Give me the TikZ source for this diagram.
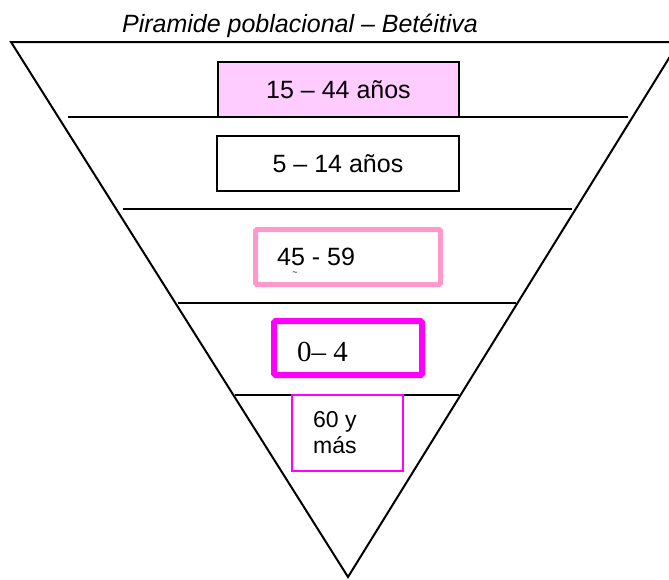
\documentclass[tikz,border=0pt]{standalone}
\usepackage{fontspec}
\setmainfont{Liberation Sans}
\newfontfamily\serifnum{Liberation Serif}
\usetikzlibrary{positioning}
\definecolor{lilac}{HTML}{FFCCFF}
\definecolor{rosa}{HTML}{FF99CC}
\definecolor{fucsia}{HTML}{FF00FF}
\begin{document}
\begin{tikzpicture}[
                x=1pt,y=-1pt,
                edgeline/.style={line width=2pt,line join=miter},
                band/.style={line width=1.8pt},
                agebox/.style={rectangle,draw,inner sep=0pt},
                lbl/.style={inner sep=0pt,anchor=base west,font=\fontsize{25}{26}\selectfont}
            ]
                \useasboundingbox (0,0) rectangle (669,579);
                % outline of the pyramid
                \coordinate (tl) at (11,42);
                \coordinate (tr) at (679,42);
                \coordinate (ap) at (348,577);
                \draw[edgeline] (tl) -- (tr) -- (ap) -- cycle;
                \node[inner sep=0pt,anchor=base,font=\fontsize{25}{26}\selectfont\itshape] (title) at (300,32) {Piramide poblacional -- Betéitiva};
                % bands
                \foreach \y/\xa/\xb [count=\i] in {117/68/628,209/123/572,303/178/516,395/235/459}{
                    \coordinate (l\i) at (\xa,\y);
                    \coordinate (r\i) at (\xb,\y);
                    \draw[band] (l\i) -- (r\i);
                }
                % age groups
                \node[agebox,fill=lilac,line width=1.4pt,minimum width=241pt,minimum height=55pt,
                    font=\fontsize{25}{26}\selectfont] (g1544) at (338.5,89.5) {15 -- 44 años};
                \node[agebox,line width=1.4pt,minimum width=242pt,minimum height=55pt,
                    font=\fontsize{25}{26}\selectfont] (g514) at (338,163.5) {5 -- 14 años};
                \node[agebox,draw=rosa,line width=5pt,rounded corners=1.5pt,minimum width=185pt,minimum height=55pt] (g4559) at (348,257) {};
                \node[lbl] (t4559) at (277,265) {45 - 59};
                \node[inner sep=0pt,font=\fontsize{9}{9}\selectfont] (tilde) at (295,274) {\textasciitilde};
                \node[agebox,draw=fucsia,line width=6pt,rounded corners=1.5pt,minimum width=148pt,minimum height=54pt] (g04) at (348,348) {};
                \node[lbl,font=\fontsize{29}{30}\serifnum] (t04) at (297,361) {0– 4};
                \node[agebox,draw=fucsia,line width=1.4pt,minimum width=111pt,minimum height=76pt] (g60) at (347.5,433) {};
                \node[lbl,font=\fontsize{23}{26}\selectfont] (t60) at (313,427) {60 y};
                \node[lbl,font=\fontsize{23}{26}\selectfont] (tmas) at (313,453) {más};
            \end{tikzpicture}
\end{document}
